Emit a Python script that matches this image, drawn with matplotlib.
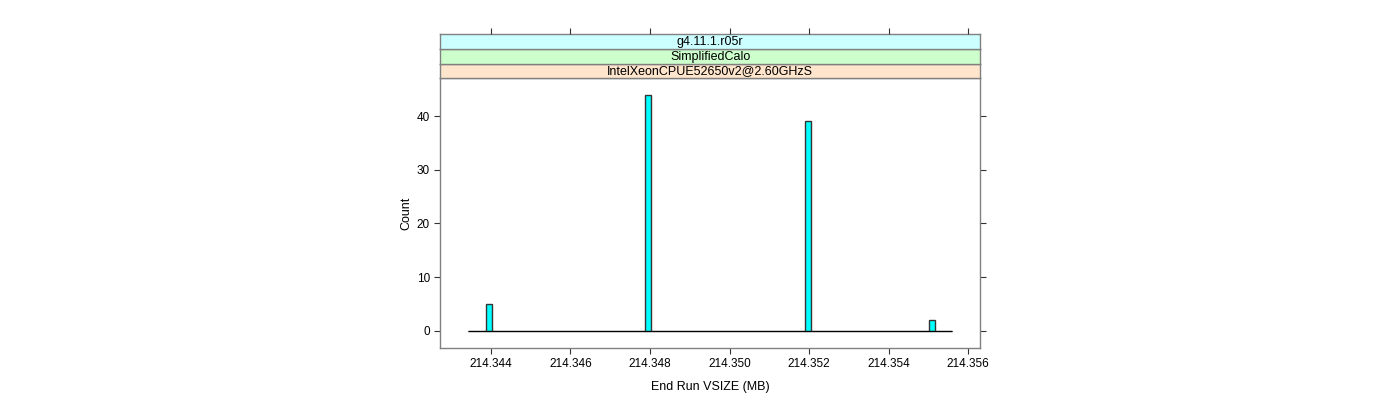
import numpy as np
import matplotlib
matplotlib.use("Agg")
import matplotlib.pyplot as plt

plt.rcParams['font.family'] = ['Liberation Sans', 'DejaVu Sans']

# ---- data ----
hist_start = 214.343422          # first break of the histogram
bin_width = 0.00014851           # histogram bin width (MB)
n_bins = 82
bar_bins = [3, 30, 57, 78]       # bins that hold runs
bar_counts = [5, 44, 39, 2]
strip_labels = ["IntelXeonCPUE52650v2@2.60GHzS", "SimplifiedCalo", "g4.11.1.r05r"]
strip_colors = ["#ffe5cc", "#ccffcc", "#ccffff"]
x_ticks = [214.344, 214.346, 214.348, 214.350, 214.352, 214.354, 214.356]
x_tick_labels = ["214.344", "214.346", "214.348", "214.350", "214.352", "214.354", "214.356"]
y_ticks = [0, 10, 20, 30, 40]
x_label = "End Run VSIZE (MB)"
y_label = "Count"

counts = np.zeros(n_bins)
for b, c in zip(bar_bins, bar_counts):
    counts[b] = c
lefts = hist_start + np.arange(n_bins) * bin_width

W, H = 1400, 400
fig = plt.figure(figsize=(W / 100, H / 100), dpi=100)

def fax(x0, y0, x1, y1):
    return fig.add_axes([x0 / W, 1 - y1 / H, (x1 - x0) / W, (y1 - y0) / H])

xlim = (214.34272, 214.35630)
fs = 8.5
frame_col = "#808080"

ax = fax(440, 77.7, 980.2, 348)
ax.bar(lefts, counts, width=bin_width, align='edge', color="#00ffff",
       edgecolor="#333333", linewidth=1.0)
ax.hlines(0, lefts[0], lefts[-1] + bin_width, color="black", linewidth=0.8, zorder=3)
ax.set_xlim(*xlim)
ax.set_ylim(-3.2, 47.15)
ax.set_xticks(x_ticks)
ax.set_xticklabels(x_tick_labels, fontsize=fs)
ax.set_yticks(y_ticks)
ax.set_yticklabels([str(t) for t in y_ticks], fontsize=fs)
ax.tick_params(axis='both', direction='out', length=4.3, width=0.8, color="#333333",
               top=False, right=True, labelright=False, pad=3)
for s in ax.spines.values():
    s.set_color(frame_col)
    s.set_linewidth(1.0)
ax.set_xlabel(x_label, fontsize=fs + 0.5, labelpad=8)
ax.set_ylabel(y_label, fontsize=fs + 0.5, labelpad=3)

strip_edges = [(63.7, 77.7), (49.0, 63.7), (34.3, 49.0)]
for (y0, y1), lab, col in zip(strip_edges, strip_labels, strip_colors):
    sa = fax(440, y0, 980.2, y1)
    sa.set_facecolor(col)
    sa.set_xlim(*xlim)
    sa.set_ylim(0, 1)
    sa.set_yticks([])
    sa.set_xticks([])
    for s in sa.spines.values():
        s.set_color(frame_col)
        s.set_linewidth(1.0)
    sa.text(0.5, 0.47, lab, transform=sa.transAxes, ha='center', va='center', fontsize=9)

# top ticks above the strips
top = strip_edges[-1]
ta = fax(440, top[0] - 0.01, 980.2, top[0])
ta.set_xlim(*xlim)
ta.set_xticks(x_ticks)
ta.set_yticks([])
ta.tick_params(axis='x', direction='out', length=4.3, width=0.8, color="#333333",
               top=True, bottom=False, labeltop=False, labelbottom=False)
for s in ta.spines.values():
    s.set_visible(False)
ta.patch.set_alpha(0)

fig.savefig("out.png", dpi=100)
